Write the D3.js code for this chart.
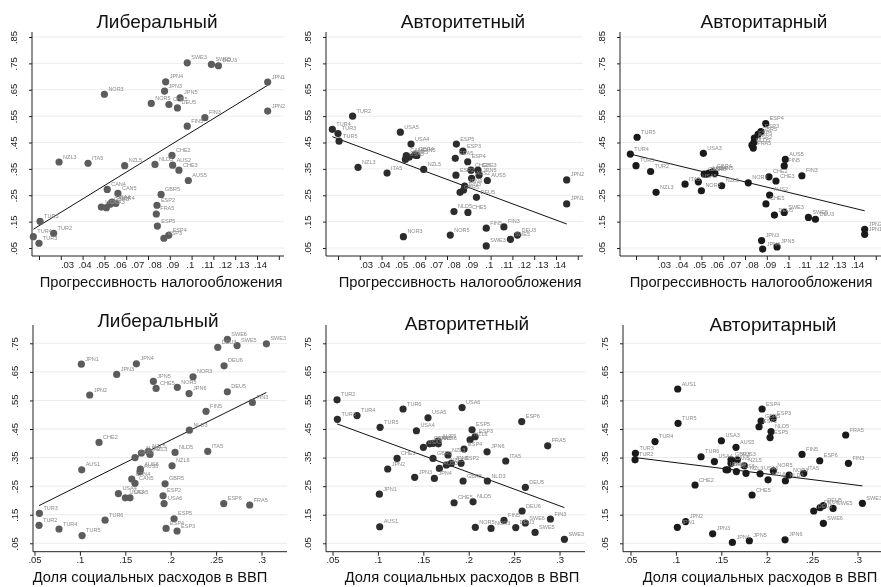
<!DOCTYPE html>
<html>
<head>
<meta charset="utf-8">
<script src="https://cdn.jsdelivr.net/npm/d3@7"></script>
<style>
body { margin: 0; background: #fff; }
svg { display: block; will-change: transform; }
</style>
</head>
<body>
<script>
const FONT = '"Liberation Sans", Arial, sans-serif';

const panelTitles = ['Либеральный', 'Авторитетный', 'Авторитарный'];
const topAxisTitle = 'Прогрессивность налогообложения';
const bottomAxisTitle = 'Доля социальных расходов в ВВП';

// top row: tax progressivity vs share of each parenting style
const topCountries = ['TUR4','TUR3','TUR5','TUR2','NZL3','ITA5','USA5','NOR3','USA3','CAN4',
	'GBR3','USA4','GBR4','CAN5','NZL5','NOR5','NLD5','FRA5','ESP2','ESP5',
	'GBR5','ESP3','JPN3','JPN4','ESP4','CHE5','CHE2','AUS2','DEU5','CHE3',
	'JPN5','SWE3','FIN5','AUS5','FIN3','SWE5','DEU3','JPN1','JPN2'];
const topX = [.0274,.0300,.0305,.0367,.0392,.0525,.0586,.0600,.0609,.0613,
	.0626,.0635,.0652,.0662,.0693,.0815,.0832,.0838,.0841,.0843,
	.0860,.0873,.0876,.0881,.0895,.0896,.0910,.0913,.0935,.0942,
	.0947,.0980,.0980,.0985,.1061,.1091,.1123,.1349,.1349];
const topLiberal = [.093,.068,.151,.106,.376,.371,.205,.633,.203,.272,
	.216,.224,.219,.257,.362,.598,.367,.179,.212,.133,
	.253,.087,.645,.680,.098,.594,.401,.364,.581,.345,
	.619,.752,.512,.306,.544,.746,.741,.679,.569];
const topAuthoritative = [.500,.484,.455,.550,.356,.334,.489,.093,.386,.400,
	.394,.444,.403,.401,.348,.099,.188,.390,.326,.444,
	.261,.417,.270,.285,.377,.185,.345,.314,.242,.345,
	.326,.058,.125,.306,.130,.083,.099,.217,.308];
const topAuthoritarian = [.406,.362,.470,.340,.261,.292,.301,.267,.409,.330,
	.330,.334,.339,.333,.286,.297,.440,.429,.451,.467,
	.481,.491,.078,.046,.522,.217,.320,.251,.175,.304,
	.054,.185,.361,.386,.324,.166,.159,.102,.121];
// fitted values at the lowest and highest x
const topFit = [[.121, .667], [.472, .141], [.406, .191]];

// bottom row: social spending share of GDP
const bottomCountries = ['TUR2','TUR3','TUR4','TUR5','TUR6','AUS1','JPN1','JPN2','CHE2','JPN3',
	'USA4','USA3','USA5','CAN4','GBR3','CAN5','JPN4','AUS5','AUS6','AUS3',
	'NZL5','NZL3','JPN5','CHE5','ESP2','USA6','GBR5','ESP4','NZL6','ESP5',
	'NLD5','ESP3','NOR5','JPN6','NLD3','NOR3','FIN5','ITA5','DEU3','ESP6',
	'DEU6','SWE6','DEU5','SWE5','FRA5','FIN3','SWE3'];
const bottomX = [.0550,.0554,.0770,.1024,.1277,.1020,.1016,.1108,.1211,.1405,
	.1424,.1501,.1552,.1571,.1607,.1607,.1622,.1662,.1666,.1677,
	.1754,.1772,.1809,.1839,.1916,.1927,.1938,.1949,.2015,.2037,
	.2048,.2070,.2073,.2202,.2206,.2246,.2389,.2408,.2518,.2584,
	.2588,.2624,.2624,.2731,.2870,.2900,.3054];
const bottomLiberal = [.113,.155,.100,.077,.131,.307,.677,.569,.403,.641,
	.224,.209,.209,.275,.350,.260,.678,.301,.310,.366,
	.372,.361,.617,.592,.216,.189,.258,.102,.321,.136,
	.368,.093,.596,.574,.446,.633,.512,.372,.736,.189,
	.671,.764,.580,.742,.184,.543,.748];
const bottomAuthoritative = [.552,.484,.497,.456,.520,.108,.222,.310,.347,.281,
	.444,.386,.489,.398,.347,.400,.277,.408,.398,.312,
	.324,.359,.330,.192,.330,.525,.268,.380,.412,.447,
	.195,.423,.106,.370,.268,.102,.130,.338,.105,.476,
	.163,.121,.246,.088,.391,.135,.064];
const bottomAuthoritarian = [.342,.365,.406,.470,.353,.590,.106,.126,.254,.083,
	.336,.409,.307,.307,.342,.330,.053,.386,.301,.342,
	.321,.295,.059,.219,.458,.293,.478,.520,.272,.420,
	.441,.487,.304,.062,.269,.289,.361,.295,.163,.339,
	.175,.120,.182,.172,.429,.330,.190];
const bottomFit = [[.182, .578], [.468, .175], [.350, .251]];

const topXTicks = [.03,.04,.05,.06,.07,.08,.09,.10,.11,.12,.13,.14];
const topXTickLabels = ['.03','.04','.05','.06','.07','.08','.09','.1','.11','.12','.13','.14'];
const topYTicks = [.05,.15,.25,.35,.45,.55,.65,.75,.85];
const bottomXTicks = [.05,.10,.15,.20,.25,.30];
const bottomYTicks = [.05,.15,.25,.35,.45,.55,.65,.75];

const dotColors = ['#5c5c5c', '#2c2c2c', '#1a1a1a'];
const stataNum = d => d3.format('.2~f')(d).replace(/^0/, '');

const ROWS = [
	{
		countries: topCountries, xs: topX, fit: topFit,
		series: [topLiberal, topAuthoritative, topAuthoritarian],
		xDomain: [.03, .14], xRange: [39, 278.8],
		yDomain: [.05, .85], yRange: [248, 37], yTop: 32, yBase: 256,
		xTicks: topXTicks, xTickLabels: topXTickLabels, labelRange: [67, 260],
		yTicks: topYTicks, axisTitle: topAxisTitle, axisTitleY: 287,
		panels: [
			{shift: 0, axisX: 32, xEnd: 284, titleX: 157, titleY: 28, axisTitleX: 161},
			{shift: 299, axisX: 326, xEnd: 583, titleX: 463, titleY: 28, axisTitleX: 460},
			{shift: 597, axisX: 620, xEnd: 881, titleX: 764, titleY: 28, axisTitleX: 751}
		]
	},
	{
		countries: bottomCountries, xs: bottomX, fit: bottomFit,
		series: [bottomLiberal, bottomAuthoritative, bottomAuthoritarian],
		xDomain: [.05, .30], xRange: [34.5, 261.5],
		yDomain: [.05, .75], yRange: [543.3, 343.3], yTop: 325, yBase: 551.7,
		xTicks: bottomXTicks, xTickLabels: null,
		yTicks: bottomYTicks, axisTitle: bottomAxisTitle, axisTitleY: 582,
		panels: [
			{shift: 0, axisX: 33, xEnd: 287, titleX: 158, titleY: 327, axisTitleX: 150},
			{shift: 298, axisX: 326, xEnd: 585, titleX: 467, titleY: 330, axisTitleX: 462},
			{shift: 596, axisX: 623, xEnd: 881, titleX: 773, titleY: 331, axisTitleX: 760}
		]
	}
];

const svg = d3.select('body').append('svg')
	.attr('width', 881)
	.attr('height', 587)
	.style('font-family', FONT);

svg.append('rect').attr('width', 881).attr('height', 587).attr('fill', '#fff');

const styleAxis = a => a
	.attr('font-family', FONT)
	.attr('font-size', 9.5)
	.attr('color', '#222')
	.call(s => s.select('.domain').remove());

ROWS.forEach(row => {
	row.panels.forEach((p, i) => {
		const g = svg.append('g');
		const x = d3.scaleLinear().domain(row.xDomain).range(row.xRange.map(v => v + p.shift));
		const y = d3.scaleLinear().domain(row.yDomain).range(row.yRange);
		const values = row.series[i];
		const points = row.xs.map((d, k) => ({name: row.countries[k], x: d, y: values[k]}));

		// faint horizontal grid
		g.append('g').selectAll('line')
			.data(row.yTicks)
			.join('line')
			.attr('x1', p.axisX).attr('x2', p.xEnd)
			.attr('y1', d => y(d)).attr('y2', d => y(d))
			.attr('stroke', '#ebebeb')
			.attr('stroke-width', 1);

		// axis lines
		g.append('line')
			.attr('x1', p.axisX).attr('x2', p.axisX)
			.attr('y1', row.yTop).attr('y2', row.yBase)
			.attr('stroke', '#222');
		g.append('line')
			.attr('x1', p.axisX).attr('x2', p.xEnd)
			.attr('y1', row.yBase).attr('y2', row.yBase)
			.attr('stroke', '#222');

		// y axis, labels turned upright like Stata
		g.append('g')
			.attr('transform', `translate(${p.axisX},0)`)
			.call(d3.axisLeft(y).tickValues(row.yTicks).tickSize(3).tickSizeOuter(0).tickFormat(stataNum))
			.call(styleAxis)
			.call(a => a.selectAll('text')
				.attr('transform', 'rotate(-90)')
				.attr('x', 0)
				.attr('y', -15)
				.attr('dy', 0)
				.attr('text-anchor', 'middle'));

		// x axis ticks
		if (row.xTickLabels) {
			g.append('g')
				.attr('transform', `translate(0,${row.yBase})`)
				.call(d3.axisBottom(x).tickValues(row.xTicks).tickSize(4).tickSizeOuter(0).tickFormat(''))
				.call(styleAxis);
			// the labels sit on their own, tighter spacing than the ticks
			const lab = d3.scalePoint().domain(row.xTickLabels)
				.range(row.labelRange.map(v => v + p.shift));
			g.append('g')
				.attr('transform', `translate(0,${row.yBase})`)
				.call(d3.axisBottom(lab).tickSize(0).tickPadding(5))
				.call(styleAxis);
		} else {
			g.append('g')
				.attr('transform', `translate(0,${row.yBase})`)
				.call(d3.axisBottom(x).tickValues(row.xTicks).tickSize(4).tickSizeOuter(0).tickPadding(1).tickFormat(stataNum))
				.call(styleAxis);
		}

		// linear fit
		const ext = d3.extent(row.xs);
		const fitLine = d3.line().x(d => x(d[0])).y(d => y(d[1]));
		g.append('path')
			.datum([[ext[0], row.fit[i][0]], [ext[1], row.fit[i][1]]])
			.attr('d', fitLine)
			.attr('fill', 'none')
			.attr('stroke', '#111')
			.attr('stroke-width', 1);

		// scatter
		g.append('g').selectAll('circle')
			.data(points)
			.join('circle')
			.attr('cx', d => x(d.x))
			.attr('cy', d => y(d.y))
			.attr('r', 3.6)
			.attr('fill', dotColors[i]);

		g.append('g')
			.selectAll('text')
			.data(points)
			.join('text')
			.attr('x', d => x(d.x) + 4)
			.attr('y', d => y(d.y) - 3.5)
			.attr('font-size', 5.5)
			.attr('fill', '#8a8a8a')
			.text(d => d.name);

		// titles
		g.append('text')
			.attr('x', p.titleX)
			.attr('y', p.titleY)
			.attr('text-anchor', 'middle')
			.attr('font-size', 19)
			.attr('fill', '#111')
			.text(panelTitles[i]);

		g.append('text')
			.attr('x', p.axisTitleX)
			.attr('y', row.axisTitleY)
			.attr('text-anchor', 'middle')
			.attr('font-size', 14.7)
			.attr('fill', '#111')
			.text(row.axisTitle);
	});
});
</script>
</body>
</html>
